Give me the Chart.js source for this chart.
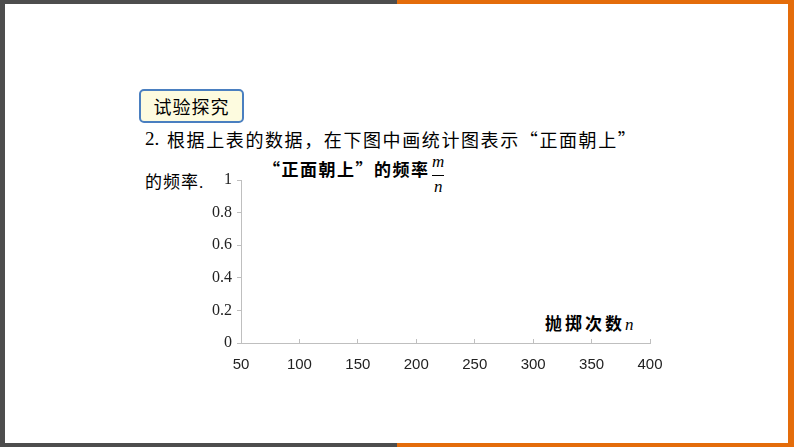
<!DOCTYPE html>
<html lang="zh-CN">
<head>
<meta charset="utf-8">
<script src="https://cdn.jsdelivr.net/npm/chart.js@4"></script>
<style>
  body { margin: 0; width: 794px; height: 447px; position: relative; overflow: hidden; background: #fff; }
  .bar { position: absolute; }
  .txt { position: absolute; white-space: nowrap; color: #000; }
  .cjk { font-family: "Noto Sans CJK SC", serif; }
  .lat { font-family: "Liberation Serif", serif; }
  .q { font-feature-settings: "fwid" 1; }
</style>
</head>
<body>
<!-- frame -->
<div class="bar" style="left:0;top:0;width:397px;height:4px;background:#4d4d4d"></div>
<div class="bar" style="left:397px;top:0;width:397px;height:4px;background:#e46c0a"></div>
<div class="bar" style="left:0;top:0;width:5px;height:447px;background:#4d4d4d"></div>
<div class="bar" style="left:788px;top:0;width:6px;height:447px;background:#e46c0a"></div>
<div class="bar" style="left:0;top:443px;width:397px;height:4px;background:#4d4d4d"></div>
<div class="bar" style="left:397px;top:443px;width:397px;height:4px;background:#e46c0a"></div>

<!-- label box -->
<div class="txt" style="left:139px;top:89px;width:101px;height:30px;border:2px solid #4a7fc0;border-radius:5px;background:#fdfbdf;
  font-family:'Noto Sans CJK SC';font-size:18px;line-height:30px;text-align:center;letter-spacing:1px">试验探究</div>

<div class="txt lat" style="left:145px;top:128px;font-size:19px">2.</div>
<div class="txt cjk q" style="left:167px;top:126px;font-size:18px;letter-spacing:1.6px">根据上表的数据，在下图中画统计图表示“正面朝上”</div>
<div class="txt cjk" style="left:145px;top:168px;font-size:17px;letter-spacing:1px">的频率<span class="lat">.</span></div>

<!-- chart titles -->
<div class="txt cjk q" style="left:263px;top:156px;font-size:17px;font-weight:bold;letter-spacing:1.5px">“正面朝上”的频率</div>
<div class="txt lat" style="left:432px;top:152px;font-style:italic;font-size:17px;">m</div>
<div class="bar" style="left:432px;top:175px;width:12px;height:1px;background:#000"></div>
<div class="txt lat" style="left:434px;top:177px;font-style:italic;font-size:17px;">n</div>
<div class="txt cjk" style="left:545px;top:310px;font-size:17px;font-weight:bold;letter-spacing:3px">抛掷次数<span class="lat" style="font-style:italic;font-weight:normal;letter-spacing:0">n</span></div>

<canvas id="myChart" style="position:absolute;left:180px;top:150px"></canvas>

<script>
// axis ticks
const xTicks = [50, 100, 150, 200, 250, 300, 350, 400]
const yTicks = [0, 0.2, 0.4, 0.6, 0.8, 1]
// "正面朝上" frequency, empty until filled in from the table
const throwCounts = []
const headsRate = []

const points = throwCounts.map((n, i) => ({x: n, y: headsRate[i]}))

const canvas = document.getElementById('myChart')
canvas.width = 520
canvas.height = 240

new Chart(canvas, {
    type: 'scatter',
    data: {
        datasets: [{
            label: '“正面朝上”的频率',
            data: points,
            backgroundColor: '#000',
            borderColor: '#000'
        }]
    },
    options: {
        responsive: false,
        animation: false,
        layout: { padding: { top: 30, right: 50, left: 0, bottom: 0 } },
        plugins: { legend: { display: false }, tooltip: { enabled: false } },
        scales: {
            x: {
                type: 'linear',
                min: xTicks[0],
                max: xTicks[xTicks.length - 1],
                afterBuildTicks: axis => { axis.ticks = xTicks.map(v => ({value: v})) },
                afterFit: axis => { axis.height = 47 },
                border: { color: '#bfbfbf', width: 1 },
                grid: { drawOnChartArea: false, drawTicks: true, tickLength: -4, color: '#bfbfbf' },
                ticks: { color: '#222', padding: 17, maxRotation: 0, autoSkip: false,
                         font: { family: 'Liberation Sans', size: 15 } }
            },
            y: {
                min: 0,
                max: 1,
                afterBuildTicks: axis => { axis.ticks = yTicks.map(v => ({value: v})) },
                afterFit: axis => { axis.width = 61 },
                border: { color: '#bfbfbf', width: 1 },
                grid: { drawOnChartArea: false, drawTicks: true, tickLength: 4, color: '#bfbfbf' },
                ticks: { color: '#222', padding: 5, callback: v => String(v),
                         font: { family: 'Liberation Serif', size: 16 } }
            }
        }
    }
})
</script>
</body>
</html>
